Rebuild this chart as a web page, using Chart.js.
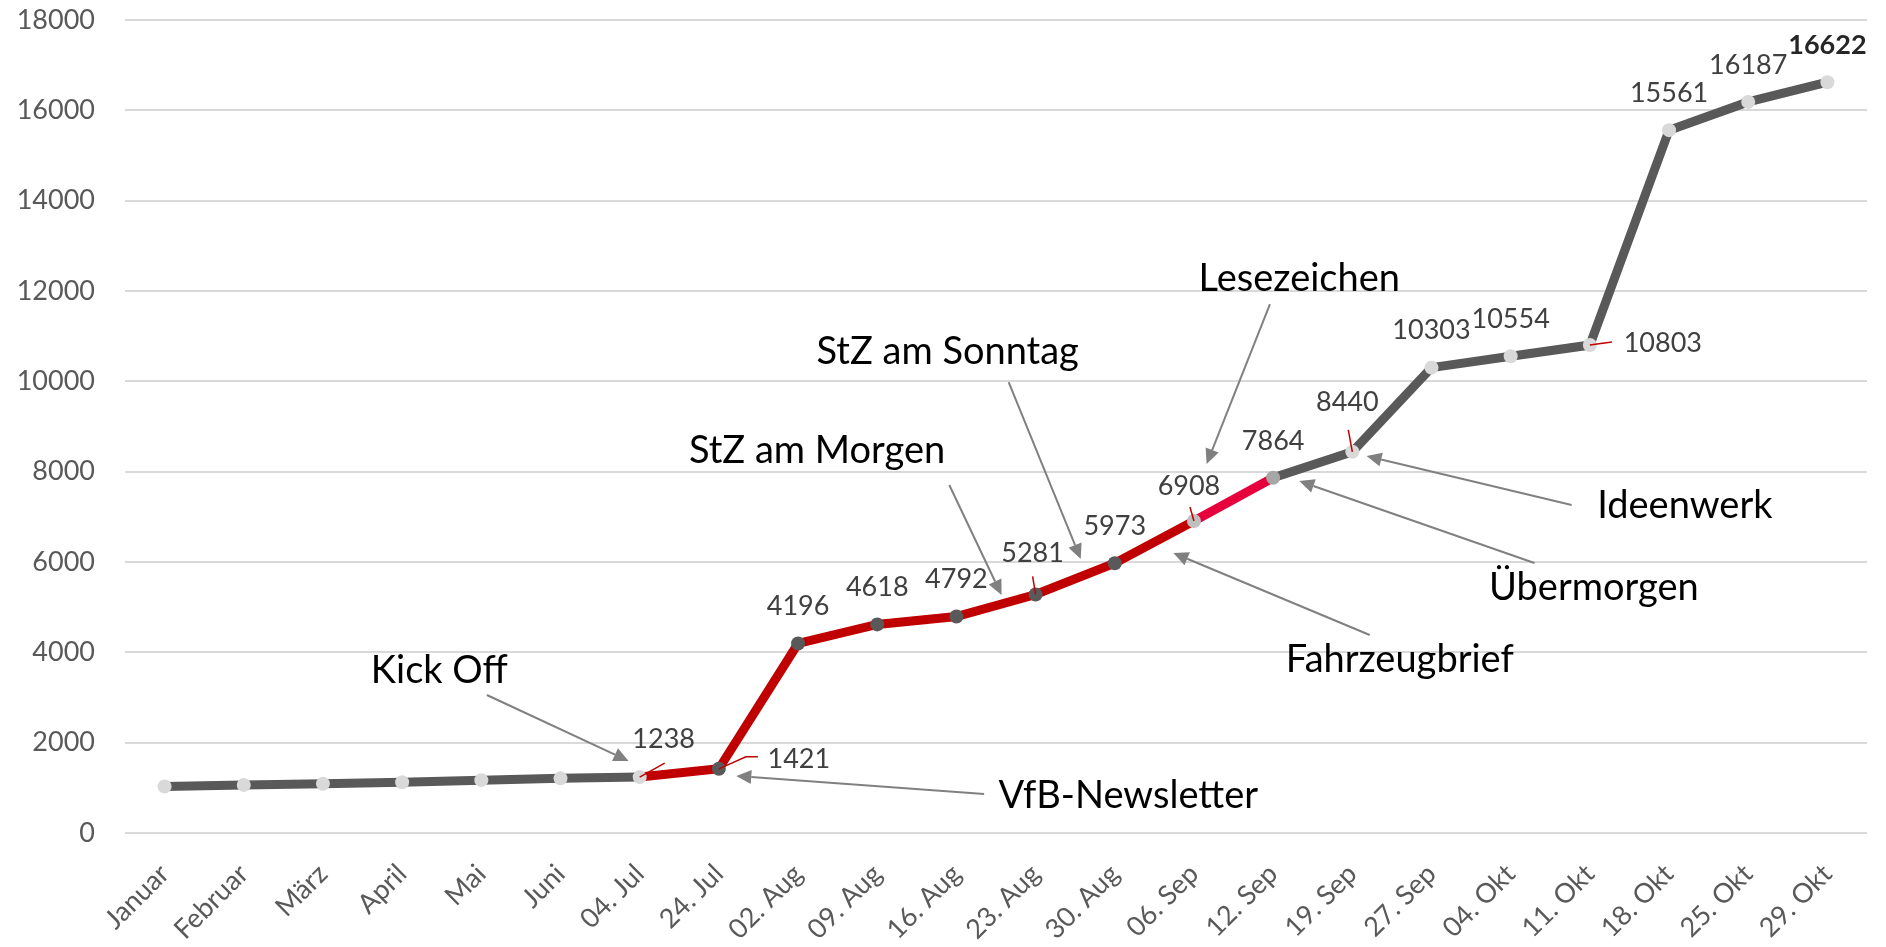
<!DOCTYPE html>
<html>
<head>
<meta charset="utf-8">
<script src="https://cdn.jsdelivr.net/npm/chart.js@4.4.0/dist/chart.umd.min.js"></script>
<style>
  body { margin: 0; background: #fff; }
  #wrap { width: 1886px; height: 947px; position: relative; }
</style>
</head>
<body>
<div id="wrap"><canvas id="chart"></canvas></div>
<script>
// Kategorien (x-Achse)
const labels = ['Januar', 'Februar', 'März', 'April', 'Mai', 'Juni', '04. Jul', '24. Jul',
  '02. Aug', '09. Aug', '16. Aug', '23. Aug', '30. Aug', '06. Sep', '12. Sep', '19. Sep',
  '27. Sep', '04. Okt', '11. Okt', '18. Okt', '25. Okt', '29. Okt'];

// Werte
const values = [1030, 1065, 1090, 1125, 1170, 1210, 1238, 1421,
  4196, 4618, 4792, 5281, 5973, 6908, 7864, 8440,
  10303, 10554, 10803, 15561, 16187, 16622];

// welche Punkte bekommen eine Datenbeschriftung
const labelled = [6, 7, 8, 9, 10, 11, 12, 13, 14, 15, 16, 17, 18, 19, 20, 21];

// y-Achse
const yTicks = [0, 2000, 4000, 6000, 8000, 10000, 12000, 14000, 16000, 18000];

// Ereignisse
const events = ['Kick Off', 'VfB-Newsletter', 'StZ am Morgen', 'StZ am Sonntag',
  'Lesezeichen', 'Fahrzeugbrief', 'Übermorgen', 'Ideenwerk'];

// Lage der Ereignis-Texte und Pfeile (Kategorie-Index, Wert)
const eventPos = [
  { at: [3.47, 3590], from: [4.07, 3055], to: [5.86, 1594] },
  { at: [12.17, 819], from: [10.35, 863], to: [7.22, 1262] },
  { at: [8.24, 8458], from: [9.91, 7705], to: [10.57, 5269] },
  { at: [9.89, 10649], from: [10.66, 9985], to: [11.57, 6066] },
  { at: [14.33, 12266], from: [13.96, 11712], to: [13.16, 8170] },
  { at: [15.6, 3830], from: [15.22, 4384], to: [12.74, 6199] },
  { at: [18.05, 5424], from: [17.3, 5978], to: [14.33, 7793] },
  { at: [19.2, 7240], from: [17.77, 7262], to: [15.18, 8347] }
];

// Beschriftungs-Versatz in Pixel, plus rote Fuehrungslinien
const labelOffset = {
  6: { d: [24, -38], lead: [[0, 0], [25, -14]] },
  7: { d: [80, -10], lead: [[0, 0], [27, -12], [39, -12]] },
  11: { d: [-3, -41], lead: [[0, 0], [-3, -18]] },
  13: { d: [-5, -35], lead: [[0, 0], [-4, -14]] },
  15: { d: [-5, -49], lead: [[0, 0], [-4, -22]] },
  18: { d: [73, -2], lead: [[0, 0], [22, -3]] }
};

const GREY = '#595959';
const RED = '#C00000';
const PINK = '#E6003C';

function pointColor(i) {
  if (i >= 7 && i <= 12) return '#595959';
  if (i == 13) return '#BFBFBF';
  if (i == 14) return '#A6A6A6';
  return '#D9D9D9';
}

const FONT = 'Lato, "Open Sans", sans-serif';

const annotatePlugin = {
  id: 'annotate',
  afterDatasetsDraw(chart) {
    const ctx = chart.ctx;
    const xs = chart.scales.x, ys = chart.scales.y;
    ctx.save();

    // Datenbeschriftungen
    labelled.forEach(i => {
      const px = xs.getPixelForValue(i);
      const py = ys.getPixelForValue(values[i]);
      const o = labelOffset[i];
      const d = o ? o.d : [0, -37];
      if (o && o.lead) {
        ctx.strokeStyle = RED;
        ctx.lineWidth = 1.5;
        ctx.beginPath();
        o.lead.forEach((p, k) => {
          if (k == 0) ctx.moveTo(px + p[0], py + p[1]);
          else ctx.lineTo(px + p[0], py + p[1]);
        });
        ctx.stroke();
      }
      const last = i == values.length - 1;
      ctx.font = (last ? 'bold ' : '') + '27px ' + FONT;
      ctx.fillStyle = last ? '#262626' : '#404040';
      ctx.textAlign = 'center';
      ctx.textBaseline = 'middle';
      ctx.fillText(String(values[i]), px + d[0], py + d[1]);
    });

    // Ereignisse mit Pfeilen
    events.forEach((txt, i) => {
      const p = eventPos[i];
      const x1 = xs.getPixelForValue(p.from[0]), y1 = ys.getPixelForValue(p.from[1]);
      const x2 = xs.getPixelForValue(p.to[0]), y2 = ys.getPixelForValue(p.to[1]);
      const ang = Math.atan2(y2 - y1, x2 - x1);
      const len = 15, wid = 7;
      const bx = x2 - len * Math.cos(ang), by = y2 - len * Math.sin(ang);
      ctx.strokeStyle = '#808080';
      ctx.fillStyle = '#808080';
      ctx.lineWidth = 2;
      ctx.beginPath();
      ctx.moveTo(x1, y1);
      ctx.lineTo(bx, by);
      ctx.stroke();
      ctx.beginPath();
      ctx.moveTo(x2, y2);
      ctx.lineTo(bx + wid * Math.sin(ang), by - wid * Math.cos(ang));
      ctx.lineTo(bx - wid * Math.sin(ang), by + wid * Math.cos(ang));
      ctx.closePath();
      ctx.fill();

      ctx.font = '38px ' + FONT;
      ctx.fillStyle = '#000';
      ctx.textAlign = 'center';
      ctx.textBaseline = 'middle';
      ctx.fillText(txt, xs.getPixelForValue(p.at[0]), ys.getPixelForValue(p.at[1]));
    });
    ctx.restore();
  }
};

new Chart(document.getElementById('chart'), {
  type: 'line',
  data: {
    labels: labels,
    datasets: [{
      data: values,
      borderColor: GREY,
      borderWidth: 9,
      tension: 0,
      pointRadius: 7,
      pointBorderWidth: 0,
      pointBackgroundColor: values.map((v, i) => pointColor(i)),
      segment: {
        borderColor: c => {
          const i = c.p0DataIndex;
          if (i >= 6 && i <= 12) return RED;
          if (i == 13) return PINK;
          return GREY;
        }
      }
    }]
  },
  options: {
    responsive: true,
    maintainAspectRatio: false,
    animation: false,
    layout: { padding: { top: 20, right: 19, left: 0, bottom: 0 } },
    plugins: { legend: { display: false }, tooltip: { enabled: false } },
    scales: {
      x: {
        offset: true,
        grid: { display: false },
        border: { display: false },
        ticks: {
          color: GREY,
          font: { family: FONT, size: 27 },
          minRotation: 45,
          maxRotation: 45,
          autoSkip: false,
          padding: 17
        },
        afterFit: s => {
          s.height = 114;
          s.paddingLeft = 0;
          s.paddingRight = 0;
        }
      },
      y: {
        min: 0,
        max: 18000,
        afterBuildTicks: s => { s.ticks = yTicks.map(v => ({ value: v })); },
        grid: { color: '#D9D9D9', lineWidth: 2, drawTicks: false },
        border: { display: false },
        ticks: {
          color: GREY,
          font: { family: FONT, size: 27 },
          padding: 30,
          callback: v => String(v)
        },
        afterFit: s => {
          s.width = 125;
          s.paddingTop = 0;
          s.paddingBottom = 0;
        }
      }
    }
  },
  plugins: [annotatePlugin]
});
</script>
</body>
</html>
